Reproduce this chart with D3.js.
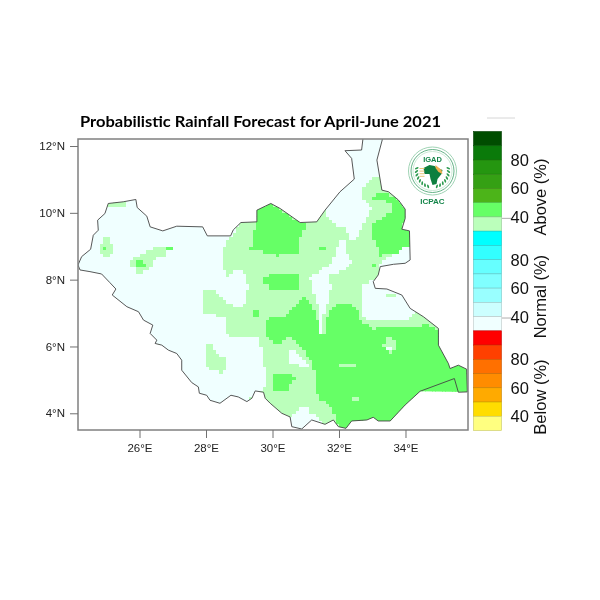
<!DOCTYPE html>
<html><head><meta charset="utf-8">
<script src="https://cdn.jsdelivr.net/npm/d3@7/dist/d3.min.js"></script>
<style>html,body{margin:0;padding:0;background:#fff}svg{display:block;filter:blur(0.3px)}</style>
</head><body><div id="chart"></div>
<script>
// ---- chart data: all coordinates are [longitude, latitude] ----
const chartTitle = "Probabilistic Rainfall Forecast for April-June 2021";
const lonTicks = [26, 28, 30, 32, 34];
const latTicks = [4, 6, 8, 10, 12];
const lonDomain = [24.15, 35.88];
const latDomain = [3.5, 12.21];

const boundary = [[24.15,8.44],[24.26,8.69],[24.53,8.91],[24.61,9.33],[24.76,9.48],[24.74,9.78],[24.96,9.98],[25.06,10.28],[25.51,10.33],[25.89,10.4],[25.93,10.16],[26.22,9.9],[26.32,9.58],[26.7,9.46],[27.12,9.6],[27.9,9.58],[28.04,9.31],[28.74,9.31],[28.82,9.49],[29.05,9.71],[29.53,9.73],[29.53,10.08],[29.95,10.28],[30.23,10.13],[30.83,9.71],[31.33,9.73],[31.58,10.08],[32.03,10.63],[32.46,11.01],[32.38,11.63],[32.18,11.86],[32.68,11.88],[32.72,12.21],[32.75,12.63],[33.3,12.63],[33.3,12.18],[33.14,11.58],[33.29,10.68],[33.49,10.63],[33.79,10.38],[33.99,10.11],[33.99,9.83],[33.89,9.51],[34.12,9.46],[34.14,8.59],[33.99,8.49],[33.64,8.46],[33.24,8.39],[33.18,8.14],[33.03,7.94],[33.09,7.74],[33.44,7.72],[33.89,7.54],[34.14,7.14],[34.54,6.89],[34.99,6.54],[34.99,6.04],[35.29,5.49],[35.34,5.34],[35.59,5.44],[35.84,5.32],[35.86,4.64],[35.59,4.63],[35.47,5.04],[34.44,4.66],[33.99,4.25],[33.54,3.77],[33.18,3.77],[33.03,3.88],[32.84,3.8],[32.38,3.77],[32.21,3.55],[31.98,3.6],[31.83,3.8],[31.58,3.67],[31.18,3.8],[30.88,3.53],[30.58,3.6],[30.53,3.89],[30.28,4],[29.93,4.3],[29.78,4.45],[29.73,4.63],[29.48,4.67],[29.38,4.45],[29.23,4.35],[28.97,4.49],[28.75,4.54],[28.42,4.3],[28.12,4.39],[28.02,4.54],[27.8,4.6],[27.77,4.79],[27.57,4.92],[27.27,5.29],[27.27,5.59],[27.12,5.79],[26.87,5.89],[26.67,6.04],[26.47,6.09],[26.52,6.19],[26.32,6.39],[26.4,6.64],[26.12,6.79],[25.97,7.04],[25.62,7.19],[25.18,7.54],[25.29,7.72],[25.11,7.91],[24.86,8.17],[24.51,8.24],[24.21,8.29]];
// the two inner vertices of the south-east triangle: line drawn there, shading continues past it
const shadedPastBorder = ["35.59,4.63", "35.47,5.04"];

// forecast classes
const classNames = ["normal40", "above40", "above50"];
const classColors = ["#f0ffff", "#bbffbb", "#66ff66"];

// zones in paint order: class index and outline
const zoneClass = [1,1,1,1,1,1,1, 0,0,0,0,0,0, 1, 2,2,2,2,2,2,2,2,2,2,2,2, 1,1,1, 0];
const zoneOutline = [
 [[29.05,9.72],[29.05,11.28],[33.39,11.43],[36.24,8.89],[36.24,4.39],[35.04,3.2],[29.78,3.2],[29.63,4.69],[29.78,4.84],[29.73,5.79],[29.57,6.26],[28.67,6.26],[28.54,6.94],[27.97,6.97],[27.87,7.34],[27.87,7.69],[28.21,7.74],[28.47,7.45],[28.77,7.24],[29.02,7.19],[29.23,7.39],[29.26,7.84],[29.11,8.29],[28.81,8.29],[28.66,8.08],[28.47,8.44],[28.47,8.74],[28.57,9.03],[28.81,9.39]],
 [[27.97,6.14],[28.21,6.09],[28.29,5.79],[28.62,5.69],[28.64,5.34],[28.52,5.24],[28.27,5.26],[28.07,5.39],[27.97,5.64]],
 [[24.96,9.33],[25.11,9.24],[25.16,9.03],[25.23,8.98],[25.16,8.77],[25.01,8.64],[24.86,8.77],[24.83,8.94],[24.76,9],[24.86,9.09],[24.86,9.24]],
 [[25.75,8.61],[26.07,8.79],[26.32,8.94],[26.67,9.01],[26.87,9.04],[26.82,8.69],[26.47,8.64],[26.32,8.29],[26.07,8.24],[25.97,8.14],[25.87,8.39],[25.75,8.44]],
 [[25.03,10.42],[25.65,10.42],[25.65,10.2],[25.03,10.2]],
 [[26.5,6.15],[26.65,6.15],[26.65,6.02],[26.5,6.02]],
 [[29.35,4.55],[29.45,4.55],[29.45,4.4],[29.35,4.4]],
 [[31.64,9.93],[31.82,9.69],[32.24,9.54],[32.27,9.25],[32.54,9.25],[32.66,9.57],[32.84,9.84],[32.99,10.14],[32.75,10.44],[32.75,10.83],[32.93,10.98],[33.24,11.19],[33.39,12.7],[31.6,12.7],[31.58,10.24]],
 [[31.97,9.25],[32.24,9.25],[32.24,8.83],[32.39,8.5],[32.18,8.29],[31.73,8.17],[31.76,7.78],[31.73,7.45],[31.55,7],[31.55,6.43],[31.43,6.43],[31.43,7],[31.25,7.63],[31.13,8.08],[31.43,8.29],[31.79,8.53],[31.94,8.89]],
 [[32.68,7.84],[32.68,6.89],[32.93,6.79],[33.24,6.84],[34.14,6.84],[34.29,7.09],[33.99,7.69],[33.39,7.99],[33.03,7.99]],
 [[33.24,8.5],[33.45,8.71],[33.78,8.8],[33.9,8.95],[34.17,8.98],[34.3,8.3],[33.24,8.3]],
 [[30.46,5.95],[30.58,5.95],[31.03,5.53],[31.07,5.44],[30.47,5.46]],
 [[30.56,3.89],[30.77,4.16],[30.98,4.25],[31.19,4],[31.52,3.74],[31.58,3.35],[30.38,3.35]],
 [[33.44,7.64],[33.74,7.6],[33.74,7.46],[33.46,7.46]],
 [[29.51,10.08],[29.93,10.29],[30.83,9.72],[31.04,9.69],[30.92,9.49],[30.85,9.28],[30.77,8.8],[30.08,8.74],[29.93,8.84],[29.45,8.86],[29.27,8.98],[29.36,9.04],[29.38,9.39],[29.53,9.72]],
 [[29.78,8.11],[29.69,7.99],[29.87,7.84],[29.99,7.66],[30.62,7.66],[30.83,7.78],[30.74,8.23],[30.14,8.23]],
 [[33.05,10.53],[33.27,10.62],[33.48,10.59],[33.78,10.38],[33.96,10.14],[33.96,9.78],[33.9,9.51],[34.17,9.45],[34.17,9.03],[33.9,8.97],[33.78,8.8],[33.18,8.74],[33.15,9.04],[32.96,9.28],[32.96,9.63],[33.39,9.93],[33.66,10.08],[33.6,10.23],[33.39,10.38],[33.27,10.44],[33.05,10.44]],
 [[31.36,9.03],[31.58,9.03],[31.58,8.93],[31.36,8.93]],
 [[32.96,8.53],[33.08,8.53],[33.08,8.43],[32.96,8.43]],
 [[29.78,6.85],[29.93,6.85],[30.32,6.89],[30.58,7.15],[30.98,7.54],[31.18,7.24],[31.43,6.64],[31.45,6.43],[31.55,6.43],[31.58,6.85],[31.82,7.15],[31.97,7.34],[32.33,7.3],[32.53,7.15],[32.63,6.85],[32.99,6.54],[34.14,6.62],[34.64,6.66],[34.95,6.55],[35.64,6.55],[36.24,5.3],[36.24,4.64],[34.44,4.64],[34.44,3.2],[32.18,3.2],[31.97,3.59],[31.88,3.9],[31.78,4.19],[31.37,4.49],[31.28,4.94],[31.23,5.54],[30.88,5.94],[30.53,6.34],[30.23,6.13],[29.99,6.13],[29.78,6.43]],
 [[29.96,5.22],[30.38,5.22],[30.78,5.09],[30.53,4.89],[30.48,4.74],[29.96,4.74]],
 [[29.36,6.99],[29.48,7.14],[29.65,6.99],[29.65,6.93],[29.36,6.93]],
 [[24.94,9.04],[25.05,9.04],[25.05,8.95],[24.94,8.95]],
 [[26.84,9.05],[27.05,9.05],[27.05,8.95],[26.84,8.95]],
 [[25.87,8.54],[25.97,8.64],[26.07,8.54],[26.17,8.44],[25.87,8.44]],
 [[25.03,10.42],[25.3,10.42],[25.3,10.27],[25.03,10.27]],
 [[31.96,5.52],[32.55,5.54],[32.55,5.46],[32.12,5.36],[31.96,5.36]],
 [[33.49,6.38],[33.66,6.14],[33.8,5.99],[33.6,5.92],[33.54,5.8],[33.36,5.94],[33.3,6.06]],
 [[32.45,4.55],[32.56,4.55],[32.56,4.44],[32.45,4.44]],
 [[33.4,6.03],[33.56,6.03],[33.56,5.9],[33.4,5.9]]
];

const gridStep = 0.1;

// colour bar
const barGroups = ["Above (%)", "Normal (%)", "Below (%)"];
const barColors = [
 ["#004d00","#0a7a0a","#259610","#35a014","#4cb419","#66ff66","#bbffbb"],
 ["#00ffff","#33ffff","#66ffff","#80ffff","#99ffff","#ccffff","#f0ffff"],
 ["#ff0000","#ff4000","#ff7000","#ff8c00","#ffaa00","#ffdd00","#ffff80"]
];
const barTickLabels = ["80","60","40"];

// ---- drawing ----
const W = 600, H = 600;
const svg = d3.select("#chart").append("svg").attr("width", W).attr("height", H);
const x = d3.scaleLinear().domain(lonDomain).range([78, 468]);
const y = d3.scaleLinear().domain(latDomain).range([430, 139]);
const sans = "'Liberation Sans', Arial, sans-serif";
const line = d3.line().x(d => x(d[0])).y(d => y(d[1]));

const defs = svg.append("defs");
defs.append("clipPath").attr("id","frame").append("rect")
  .attr("x",x.range()[0]).attr("y",y.range()[1])
  .attr("width",x.range()[1]-x.range()[0]).attr("height",y.range()[0]-y.range()[1]);
const shaded = boundary.filter(p => !shadedPastBorder.includes(p.join(",")));
defs.append("clipPath").attr("id","land").append("path").attr("d", line(shaded) + "Z");

// grid cells: each takes the class of the last zone containing its centre
const cols = d3.range(240,360), rows = d3.range(34,123);
const cells = [];
rows.forEach(r => cols.forEach(c => {
  const lon = (c + 0.5) * gridStep, lat = (r + 0.5) * gridStep;
  let k = 0;
  zoneOutline.forEach((z, i) => { if (d3.polygonContains(z, [lon, lat])) k = zoneClass[i]; });
  cells.push({lon, lat, k});
}));

const map = svg.append("g").attr("clip-path","url(#frame)");
map.append("g").attr("clip-path","url(#land)")
  .attr("shape-rendering","crispEdges")
  .selectAll("rect").data(cells).join("rect")
  .attr("x", d => x(d.lon - gridStep/2))
  .attr("y", d => y(d.lat + gridStep/2))
  .attr("width", d => x(d.lon + gridStep/2) - x(d.lon - gridStep/2) + 0.6)
  .attr("height", d => y(d.lat - gridStep/2) - y(d.lat + gridStep/2) + 0.6)
  .attr("fill", d => classColors[d.k]);
map.append("path").attr("d", line(boundary) + "Z")
  .attr("fill","none").attr("stroke","#444").attr("stroke-width",0.9).attr("stroke-linejoin","round");

// frame and axes
svg.append("rect").attr("x",78).attr("y",139).attr("width",390).attr("height",291)
  .attr("fill","none").attr("stroke","#808080").attr("stroke-width",1.5);
const xAxis = svg.append("g").attr("transform","translate(0,430)")
  .call(d3.axisBottom(x).tickValues(lonTicks).tickSize(8).tickPadding(6).tickFormat(d => d + "°E"));
const yAxis = svg.append("g").attr("transform","translate(78,0)")
  .call(d3.axisLeft(y).tickValues(latTicks).tickSize(8).tickPadding(5).tickFormat(d => d + "°N"));
[xAxis,yAxis].forEach(a => {
  a.select(".domain").remove();
  a.selectAll("line").attr("stroke","#707070").attr("stroke-width",1);
  a.selectAll("text").attr("font-family",sans).attr("font-size",11.5).attr("fill","#222");
});

svg.append("text").attr("x",80).attr("y",127).attr("font-family","Lato, sans-serif")
  .attr("font-weight",700).attr("font-size",16).attr("fill","#000")
  .attr("textLength",361).attr("lengthAdjust","spacingAndGlyphs").text(chartTitle);

// colour bar
const boxH = 299/21, barX = 473.5, barW = 28, barTop = 131.5;
const barScale = d3.scaleLinear().domain([0,21]).range([barTop, barTop + 299]);
const titleSlots = [4.6, 11.6, 18.65];
barColors.forEach((cs, g) => {
  svg.append("g").selectAll("rect").data(cs).join("rect")
    .attr("x",barX).attr("y",(d,i) => barScale(g*7+i)).attr("width",barW).attr("height",boxH)
    .attr("fill",d => d).attr("stroke",d => d3.color(d).darker(0.7)).attr("stroke-width",0.6);
  barTickLabels.forEach((t,i) => {
    svg.append("text").attr("x",510.5).attr("y",barScale(g*7+2+i*2)+6)
      .attr("font-family",sans).attr("font-size",16.5).attr("fill","#111").text(t);
  });
  svg.append("text").attr("transform",`translate(546,${barScale(titleSlots[g])}) rotate(-90)`)
    .attr("text-anchor","middle").attr("font-family",sans).attr("font-size",16.5).attr("fill","#111")
    .text(barGroups[g]);
  if (g<2) svg.append("line").attr("x1",502).attr("x2",511).attr("y1",barScale(g*7+6.1)).attr("y2",barScale(g*7+6.1))
    .attr("stroke","#999").attr("stroke-width",0.8);
});
svg.append("line").attr("x1",487).attr("x2",515).attr("y1",118).attr("y2",118).attr("stroke","#ccc").attr("stroke-width",0.8);

// ICPAC logo
const logo = svg.append("g").attr("transform","translate(432.5,171)");
logo.append("circle").attr("r",24).attr("fill","#fff").attr("stroke","#9fd3b4").attr("stroke-width",1);
logo.append("circle").attr("r",21.5).attr("fill","none").attr("stroke","#3f9f6a").attr("stroke-width",0.8);
logo.append("circle").attr("r",19.5).attr("fill","none").attr("stroke","#bfe3cd").attr("stroke-width",0.8);
// wreath: leaves on an arc either side of the emblem, open at the top
d3.range(80,170,12).forEach(a => [-1,1].forEach(s => {
  const t = a*Math.PI/180, r = 16;
  logo.append("ellipse").attr("rx",2).attr("ry",0.9)
    .attr("transform",`translate(${s*r*Math.sin(t)},${-r*Math.cos(t)}) rotate(${s*(a-55)})`)
    .attr("fill", "#2c9a4f");
}));
logo.append("path").attr("d","M-9,-3 L-3,-6 L2,-5 L5,-3 L10,-1 L9,3 L5,8 L4,13 L0,14 L-2,8 L-3,3 L-8,3 Z").attr("fill","#0d7f3f");
logo.append("path").attr("d","M3,-6 L9,-1 L10,3 L6,1 L3,-3 Z").attr("fill","#f0b050");
d3.range(4).forEach(i => logo.append("rect").attr("x",-13).attr("y",-3+i*2.6).attr("width",5).attr("height",1).attr("fill","#e9c77a"));
logo.append("text").attr("text-anchor","middle").attr("y",-9.5).attr("font-family",sans).attr("font-weight",700)
  .attr("font-size",7.5).attr("fill","#15854a").text("IGAD");
svg.append("text").attr("x",432.5).attr("y",204).attr("text-anchor","middle").attr("font-family",sans)
  .attr("font-weight",700).attr("font-size",8).attr("fill","#15854a").text("ICPAC");
</script></body></html>
